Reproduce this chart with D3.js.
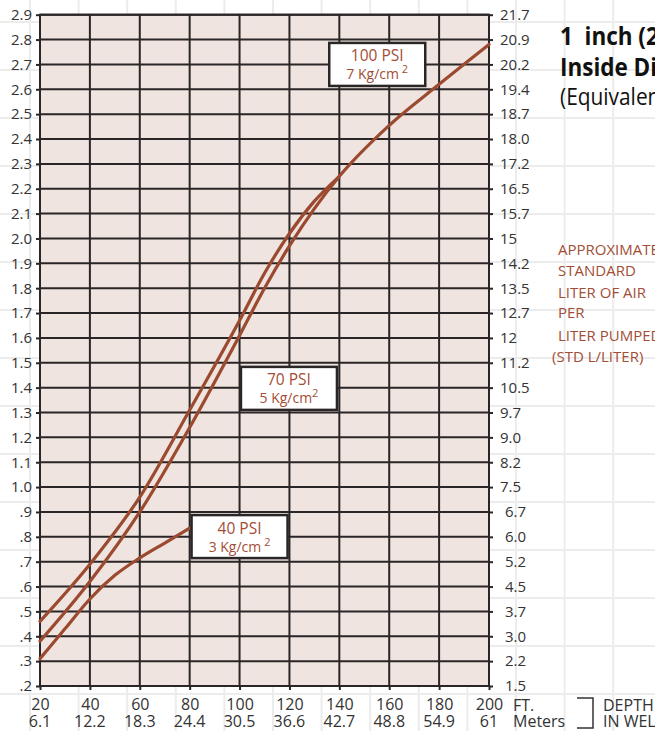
<!DOCTYPE html>
<html>
<head>
<meta charset="utf-8">
<script src="https://cdn.jsdelivr.net/npm/d3@7/dist/d3.min.js"></script>
<style>
  html, body { margin: 0; padding: 0; background: #fff; overflow: hidden; }
  svg { display: block; }
  text { font-family: "Open Sans", "Noto Sans", sans-serif; }
</style>
</head>
<body>
<svg id="chart" width="655" height="731"></svg>
<script>
// ---------- data ----------
const leftLabels = ["2.9","2.8","2.7","2.6","2.5","2.4","2.3","2.2","2.1","2.0","1.9","1.8","1.7","1.6","1.5","1.4","1.3","1.2","1.1","1.0",".9",".8",".7",".6",".5",".4",".3",".2"];
const rightLabels = ["21.7","20.9","20.2","19.4","18.7","18.0","17.2","16.5","15.7","15","14.2","13.5","12.7","12","11.2","10.5","9.7","9.0","8.2","7.5","6.7","6.0","5.2","4.5","3.7","3.0","2.2","1.5"];
const ftLabels = [20,40,60,80,100,120,140,160,180,200];
const meterLabels = ["6.1","12.2","18.3","24.4","30.5","36.6","42.7","48.8","54.9","61"];

const psi40Depth = [20,30,40,50,60,70,80];
const psi40Air   = [0.31,0.43,0.55,0.645,0.715,0.775,0.835];

const psi70Depth = [20,40,60,80,100,110,120,130,140];
const psi70Air   = [0.46,0.69,0.96,1.31,1.67,1.86,2.02,2.15,2.25];

const psi100Depth = [20,40,60,80,100,110,120,130,140,160,180,200];
const psi100Air   = [0.38,0.62,0.90,1.24,1.61,1.80,1.97,2.12,2.25,2.455,2.62,2.78];

const seriesNames = ["40 PSI","70 PSI","100 PSI"];
const seriesUnits = ["3 Kg/cm","5 Kg/cm","7 Kg/cm"];
const seriesSupGap = [" 2","2"," 2"];
// label box centres in data units (ft, std L/L)
const labelFt  = [100, 119.8, 155.2];
const labelVal = [0.801, 1.397, 2.70];

// ---------- drawing ----------
const svg = d3.select("#chart");
const W = 655, H = 731;
const gridColor = "#2a2526";
const curveColor = "#9b4a2f";
const textRed = "#a24e36";

// faint page grid (decorative background)
const bg = svg.append("g");
d3.range(30, W, 48.6).forEach(v => bg.append("line").attr("x1", v).attr("x2", v).attr("y1", 0).attr("y2", H)
  .attr("stroke", "#ececec").attr("stroke-width", 2));
d3.range(22, H, 48).forEach(v => bg.append("line").attr("y1", v).attr("y2", v).attr("x1", 0).attr("x2", W)
  .attr("stroke", "#ececec").attr("stroke-width", 2));

const x = d3.scaleLinear().domain([20, 200]).range([40, 489]);
const yVals = leftLabels.map(Number);
const y = d3.scaleLinear().domain([0.2, 2.9]).range([686, 14.7]);

// plot background
svg.append("rect").attr("x", x(20)).attr("y", y(2.9)).attr("width", x(200) - x(20)).attr("height", y(0.2) - y(2.9))
  .attr("fill", "#efe4df");

// grid lines
const grid = svg.append("g").attr("stroke", gridColor).attr("stroke-width", 2);
yVals.forEach(v => grid.append("line").attr("x1", x(20)).attr("x2", x(200)).attr("y1", y(v)).attr("y2", y(v)));
ftLabels.forEach(v => grid.append("line").attr("x1", x(v)).attr("x2", x(v)).attr("y1", y(2.9)).attr("y2", y(0.2)));

// left axis
const leftAxis = d3.axisLeft(y).tickValues(yVals).tickFormat((d, i) => leftLabels[i]).tickSize(4).tickPadding(4);
const gL = svg.append("g").attr("transform", `translate(${x(20)},0)`).call(leftAxis);
gL.select(".domain").remove();
gL.selectAll("line").attr("stroke", gridColor).attr("stroke-width", 2);
gL.selectAll("text").attr("font-size", 15).attr("fill", "#333").attr("font-family", "Open Sans");

// right axis
const rightAxis = d3.axisRight(y).tickValues(yVals).tickFormat((d, i) => rightLabels[i]).tickSize(4).tickPadding(7);
const gR = svg.append("g").attr("transform", `translate(${x(200)},0)`).call(rightAxis);
gR.select(".domain").remove();
gR.selectAll("line").attr("stroke", gridColor).attr("stroke-width", 2);
gR.selectAll("text").attr("font-size", 15).attr("fill", "#333").attr("font-family", "Open Sans")
  .attr("x", (d, i) => i >= 20 ? 16 : 11);

// bottom axis
const bottomAxis = d3.axisBottom(x).tickValues(ftLabels).tickFormat(d => d).tickSize(4).tickPadding(9);
const gB = svg.append("g").attr("transform", `translate(0,${y(0.2)})`).call(bottomAxis);
gB.select(".domain").remove();
gB.selectAll("line").attr("stroke", gridColor).attr("stroke-width", 2);
gB.selectAll("text").attr("font-size", 16).attr("fill", "#333").attr("font-family", "Open Sans");
// meters row
const gM = svg.append("g");
ftLabels.forEach((v, i) => gM.append("text").attr("x", x(v)).attr("y", 727).attr("text-anchor", "middle")
  .attr("font-size", 16).attr("fill", "#333").text(meterLabels[i]));

// border
svg.append("rect").attr("x", x(20)).attr("y", y(2.9)).attr("width", x(200) - x(20)).attr("height", y(0.2) - y(2.9))
  .attr("fill", "none").attr("stroke", gridColor).attr("stroke-width", 2);

// curves
const line = d3.line().x(d => x(d[0])).y(d => y(d[1])).curve(d3.curveMonotoneX);
const series = [
  d3.zip(psi40Depth, psi40Air),
  d3.zip(psi70Depth, psi70Air),
  d3.zip(psi100Depth, psi100Air)
];
svg.append("g").selectAll("path").data(series).join("path")
  .attr("d", line).attr("fill", "none").attr("stroke", curveColor).attr("stroke-width", 3.2)
  .attr("stroke-linecap", "round");

// label boxes
const boxW = 96, boxH = 43;
seriesNames.forEach((name, i) => {
  const cx = x(labelFt[i]), cy = y(labelVal[i]);
  const g = svg.append("g");
  g.append("rect").attr("x", cx - boxW / 2).attr("y", cy - boxH / 2).attr("width", boxW).attr("height", boxH)
    .attr("fill", "#fff").attr("stroke", gridColor).attr("stroke-width", 2.5);
  g.append("text").attr("x", cx).attr("y", cy - 3).attr("text-anchor", "middle")
    .attr("font-size", 15.5).attr("fill", textRed).text(name);
  const t = g.append("text").attr("x", cx).attr("y", cy + 15).attr("text-anchor", "middle")
    .attr("font-size", 14).attr("fill", textRed).style("white-space", "pre");
  t.append("tspan").text(seriesUnits[i]);
  t.append("tspan").attr("dy", -6).attr("font-size", 11).text(seriesSupGap[i]);
});

// title (condensed look via horizontal scaling)
const titleFont = "'Liberation Sans', Arial, sans-serif";
const titleRows = [
  {t: "1\u00a0\u00a0inch (25 mm)", y: 45, size: 25, w: "bold", sx: 0.9},
  {t: "Inside Diameter", y: 76, size: 25, w: "bold", sx: 0.9},
  {t: "(Equivalent)", y: 105, size: 24, w: "normal", sx: 0.87}
];
titleRows.forEach(r => svg.append("text")
  .attr("transform", `translate(560,${r.y}) scale(${r.sx},1)`)
  .attr("font-family", titleFont).attr("font-size", r.size).attr("font-weight", r.w)
  .attr("fill", "#111").text(r.t));

// right axis title
const rt = svg.append("g").attr("fill", textRed).attr("font-size", 15);
const rtLines = [["APPROXIMATE", 558, 255], ["STANDARD", 558, 276], ["LITER OF AIR", 558, 298],
                 ["PER", 558, 318], ["LITER PUMPED", 558, 341], ["(STD L/LITER)", 552, 362]];
rtLines.forEach(d => rt.append("text").attr("x", d[1]).attr("y", d[2]).text(d[0]));

// bottom right labels
const br = svg.append("g").attr("fill", "#333").attr("font-size", 16);
br.append("text").attr("x", 513).attr("y", 711).text("FT.");
br.append("text").attr("x", 513).attr("y", 727).text("Meters");
br.append("text").attr("x", 603).attr("y", 711).text("DEPTH");
br.append("text").attr("x", 603).attr("y", 727).text("IN WELL");
svg.append("path").attr("d", "M577,698 H593 V728 H577").attr("fill", "none").attr("stroke", "#333").attr("stroke-width", 1.5);
</script>
</body>
</html>
